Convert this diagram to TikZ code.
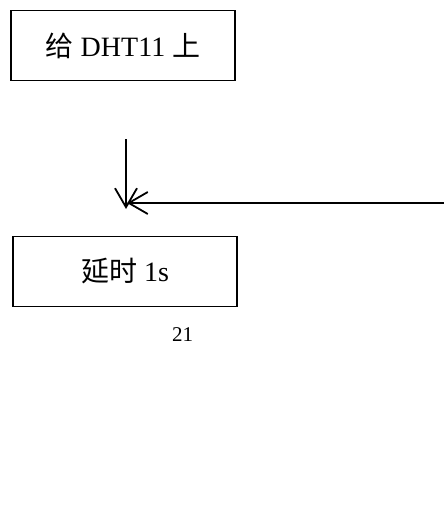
\documentclass[tikz,border=0pt]{standalone}
\usepackage{fontspec}
\setmainfont{Liberation Serif}
\newfontfamily\cjk{Noto Sans CJK SC}
\usetikzlibrary{arrows.meta}
\begin{document}
\begin{tikzpicture}[x=1pt,y=-1pt,
  box/.style={draw,line width=1.8pt,minimum width=224pt,minimum height=70pt,inner sep=0pt,font=\fontsize{28}{32}\selectfont},
  conn/.style={line width=1.8pt,-{Straight Barb[length=19pt,width=22pt,line width=1.8pt]}}]
\useasboundingbox (0,0) rectangle (444,506);
\node[box] (b1) at (123,45.5) {{\cjk 给} DHT11 {\cjk 上}};
\node[box] (b2) at (125,271.5) {{\cjk 延时} 1s};
\node[font=\fontsize{21}{24}\selectfont] (pg) at (182.5,335) {21};
\coordinate (vs) at (126,139);
\coordinate (vt) at (126,209);
\coordinate (hs) at (445,203);
\coordinate (ht) at (127,203);
\draw[conn] (vs) -- (vt);
\draw[conn] (hs) -- (ht);
\end{tikzpicture}
\end{document}
